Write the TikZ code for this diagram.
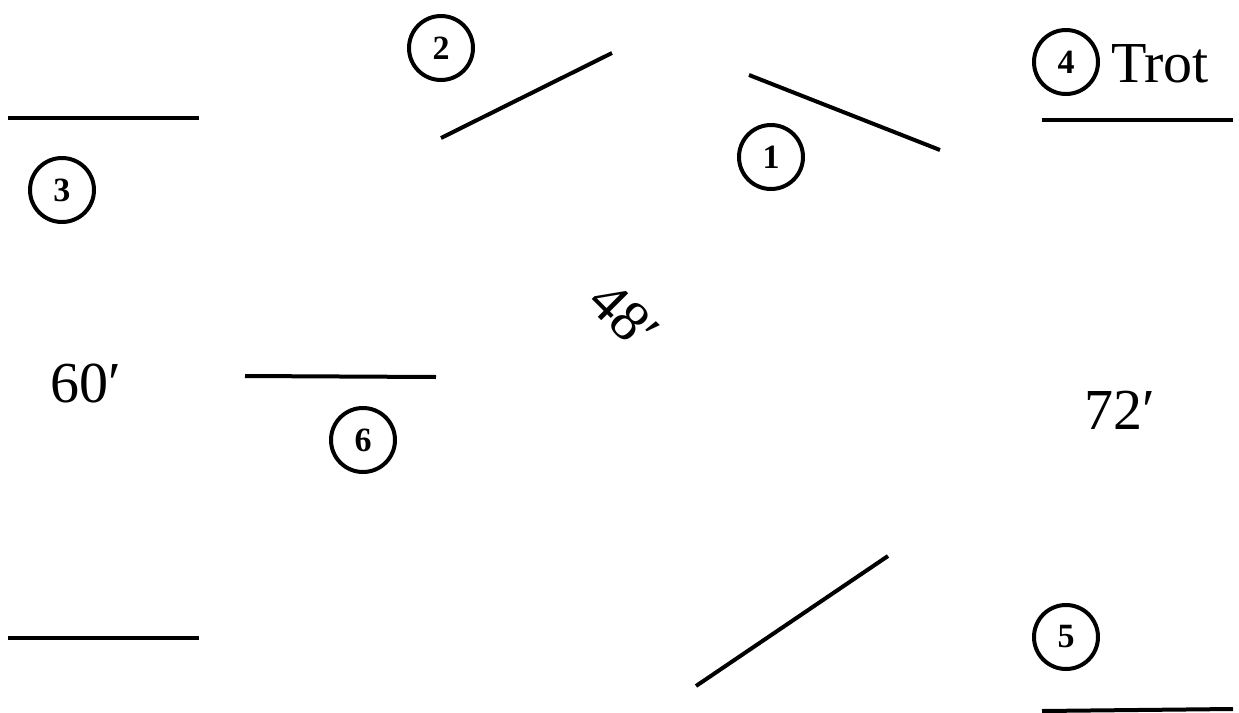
\documentclass[tikz,border=0pt]{standalone}
\usepackage{fontspec}
\setmainfont{Liberation Serif}
\newcommand{\pr}{\symbol{"2032}}
\begin{document}
\begin{tikzpicture}[x=0.5pt,y=-0.5pt,
  seg/.style={line width=2pt},
  num/.style={circle,draw,line width=2pt,minimum size=32pt,inner sep=0pt,font=\fontsize{17}{17}\selectfont\bfseries},
  big/.style={font=\fontsize{29}{29}\selectfont}]
\useasboundingbox (0,0) rectangle (1239,713);
% line segments
\coordinate (a1) at (8,118);   \coordinate (a2) at (199,118);
\coordinate (b1) at (8,638);   \coordinate (b2) at (199,638);
\coordinate (c1) at (441,138); \coordinate (c2) at (612,53);
\coordinate (d1) at (749,75);  \coordinate (d2) at (940,150);
\coordinate (e1) at (1042,120);\coordinate (e2) at (1233,120);
\coordinate (f1) at (245,376); \coordinate (f2) at (436,377);
\coordinate (g1) at (696,686); \coordinate (g2) at (888,556);
\coordinate (h1) at (1042,711);\coordinate (h2) at (1233,709);
\draw[seg] (a1) -- (a2);
\draw[seg] (b1) -- (b2);
\draw[seg] (c1) -- (c2);
\draw[seg] (d1) -- (d2);
\draw[seg] (e1) -- (e2);
\draw[seg] (f1) -- (f2);
\draw[seg] (g1) -- (g2);
\draw[seg] (h1) -- (h2);
% numbered circles
\node[num] (n2) at (441,48) {2};
\node[num] (n1) at (771,157) {1};
\node[num] (n3) at (62,190) {3};
\node[num] (n4) at (1066,62) {4};
\node[num] (n5) at (1066,637) {5};
\node[num] (n6) at (363,440) {6};
% labels
\node[big,anchor=west] (trot) at (1104,64) {Trot};
\node[big] (l60) at (86,383) {60\pr};
\node[big] (l72) at (1120,410) {72\pr};
\node[big,rotate=-45,inner sep=0pt] (l48) at (624,316) {48\pr};
\end{tikzpicture}
\end{document}
